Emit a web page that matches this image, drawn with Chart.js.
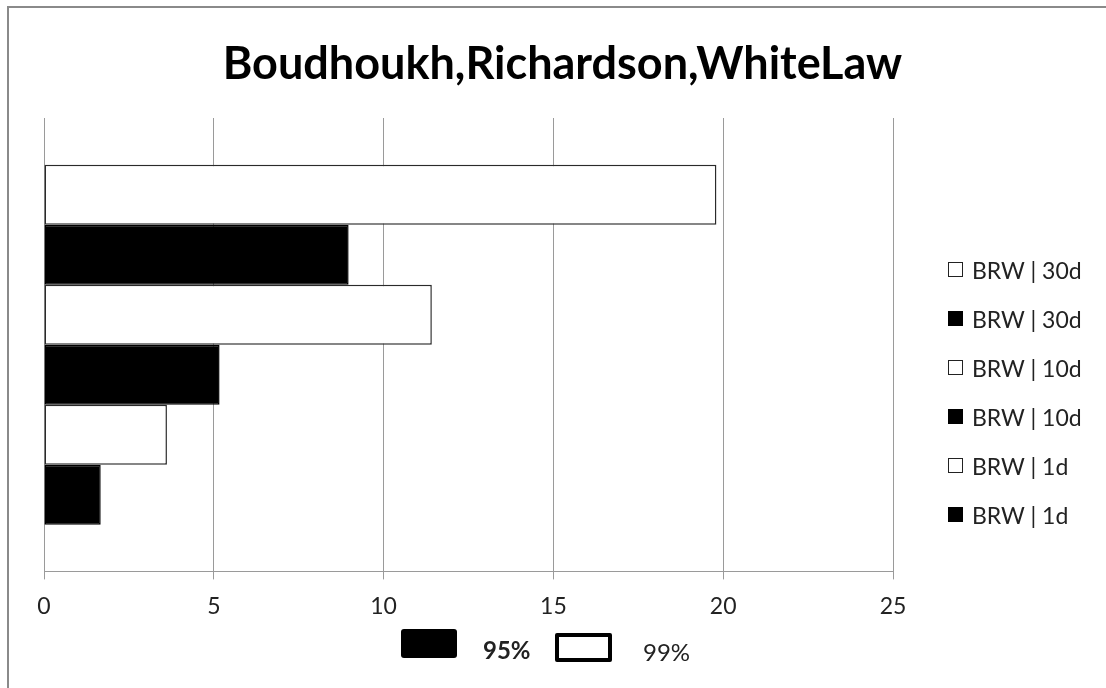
<!DOCTYPE html>
<html>
<head>
<meta charset="utf-8">
<script src="https://cdn.jsdelivr.net/npm/chart.js@4.4.0/dist/chart.umd.min.js"></script>
<style>
    body { margin: 0; background: #fff; font-family: Lato, sans-serif; }
    #wrap { position: relative; width: 1106px; height: 688px; overflow: hidden; }
    #frame { position: absolute; left: 7px; top: 6px; right: -10px; bottom: -10px;
             border-left: 2px solid #8a8a8a; border-top: 2px solid #8a8a8a; }
    canvas { position: absolute; left: 0; top: 0; }
    #title { position: absolute; left: 0; width: 1125px; top: 34px; text-align: center;
             font-weight: bold; font-size: 45px; line-height: 56px; color: #000; }
    .side-item { position: absolute; left: 948px; height: 30px; line-height: 30px;
                 font-size: 23px; color: #222; white-space: nowrap; }
    .side-item .box { position: absolute; left: 0; top: 7px; width: 15px; height: 15px; box-sizing: border-box; }
    .side-item span.txt { position: absolute; left: 24px; top: 0; }
    .key-box { position: absolute; box-sizing: border-box; }
    .key-txt { position: absolute; font-size: 24px; line-height: 30px; color: #222; }
</style>
</head>
<body>
<div id="wrap">
    <div id="frame"></div>
    <canvas id="brwChart" width="1106" height="688"></canvas>
    <div id="title">Boudhoukh,Richardson,WhiteLaw</div>
    <div id="sideLegend"></div>
    <div class="key-box" style="left:401px;top:629px;width:56px;height:29px;background:#000;border-radius:3px;"></div>
    <div class="key-txt" style="left:483px;top:635px;font-weight:bold;">95%</div>
    <div class="key-box" style="left:555px;top:633px;width:57px;height:29px;background:#fff;border:4px solid #000;border-radius:2px;"></div>
    <div class="key-txt" style="left:643px;top:637px;">99%</div>
</div>

<script>
// Data
const categories = ['BRW'];
const seriesLabels = ['BRW | 30d', 'BRW | 30d', 'BRW | 10d', 'BRW | 10d', 'BRW | 1d', 'BRW | 1d'];
const seriesLevels = ['99%', '95%', '99%', '95%', '99%', '95%'];
const seriesValues = [19.8, 8.97, 11.42, 5.17, 3.62, 1.67];
const xTicks = [0, 5, 10, 15, 20, 25];

const levelFill = { '95%': '#000000', '99%': '#ffffff' };
const levelBorder = { '95%': '#000000', '99%': '#2a2a2a' };

document.addEventListener('DOMContentLoaded', function() {
    buildSideLegend();
    initChart();
});

function buildSideLegend() {
    const holder = document.getElementById('sideLegend');
    seriesLabels.forEach((label, i) => {
        const item = document.createElement('div');
        item.className = 'side-item';
        item.style.top = (255 + i * 49) + 'px';
        const lvl = seriesLevels[i];
        item.innerHTML = '<div class="box" style="background:' + levelFill[lvl] +
            ';border:' + (lvl === '99%' ? '1.5px solid #222' : '0') + '"></div>' +
            '<span class="txt">' + label + '</span>';
        holder.appendChild(item);
    });
}

function initChart() {
    const ctx = document.getElementById('brwChart').getContext('2d');
    const datasets = seriesValues.map((v, i) => ({
        label: seriesLabels[i],
        data: [v],
        backgroundColor: levelFill[seriesLevels[i]],
        borderColor: levelBorder[seriesLevels[i]],
        borderWidth: 1.5,
        borderSkipped: false,
        categoryPercentage: 0.794,
        barPercentage: 1.0
    }));

    new Chart(ctx, {
        type: 'bar',
        data: { labels: categories, datasets: datasets },
        options: {
            indexAxis: 'y',
            responsive: false,
            animation: false,
            layout: { padding: { left: 44, right: 213, top: 118, bottom: 55 } },
            plugins: {
                legend: { display: false },
                title: { display: false },
                tooltip: { enabled: false }
            },
            scales: {
                x: {
                    min: xTicks[0],
                    max: xTicks[xTicks.length - 1],
                    afterBuildTicks: function(axis) {
                        axis.ticks = xTicks.map(v => ({ value: v }));
                    },
                    grid: { color: '#9a9a9a', lineWidth: 1, tickLength: 8 },
                    border: { color: '#9a9a9a', width: 1 },
                    ticks: {
                        padding: 13,
                        color: '#222',
                        font: { family: 'Lato', size: 23 },
                        maxRotation: 0
                    }
                },
                y: {
                    display: false
                }
            }
        }
    });
}
</script>
</body>
</html>
